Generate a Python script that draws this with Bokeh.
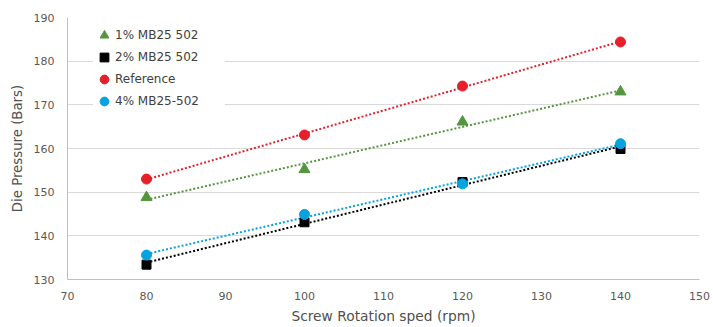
import numpy as np
from bokeh.plotting import figure
from bokeh.models import Range1d, FixedTicker, Legend, LegendItem
from bokeh.embed import file_html
from bokeh.resources import INLINE

# ---- data ----
speed = [80, 100, 120, 140]
mb1 = [148.8, 155.2, 166.1, 173.0]
mb2 = [133.4, 143.1, 152.3, 159.9]
reference = [153.0, 163.1, 174.3, 184.4]
mb4 = [135.6, 144.9, 151.9, 161.1]

series_names = ["1% MB25 502", "2% MB25 502", "Reference", "4% MB25-502"]
x_ticks = [70, 80, 90, 100, 110, 120, 130, 140, 150]
y_ticks = [130, 140, 150, 160, 170, 180, 190]

colors = ["#559540", "#000000", "#e5202a", "#05a3e0"]
markers = ["triangle", "square", "circle", "circle"]
sizes = [11, 9, 10, 10]
FONT = "DejaVu Sans"

p = figure(width=713, height=327, output_backend="svg", toolbar_location=None,
           x_range=Range1d(70, 150), y_range=Range1d(130, 190),
           min_border_left=67, min_border_right=14, min_border_top=17, min_border_bottom=48)
p.outline_line_color = None
p.background_fill_color = "white"

p.xgrid.grid_line_color = None
p.ygrid.grid_line_color = "#d9d9d9"
p.ygrid.grid_line_width = 1

p.xaxis.ticker = FixedTicker(ticks=x_ticks)
p.yaxis.ticker = FixedTicker(ticks=y_ticks)
for ax in (p.xaxis[0], p.yaxis[0]):
    ax.axis_line_color = "#bfbfbf"
    ax.major_tick_line_color = None
    ax.minor_tick_line_color = None
    ax.major_tick_out = 0
    ax.major_tick_in = 0
    ax.major_label_text_font = FONT
    ax.major_label_text_font_size = "11px"
    ax.major_label_text_color = "#595959"
    ax.axis_label_text_font = FONT
    ax.axis_label_text_font_style = "normal"
    ax.axis_label_text_color = "#505050"

p.xaxis.axis_label = "Screw Rotation sped (rpm)"
p.yaxis.axis_label = "Die Pressure (Bars)"
p.xaxis.axis_label_text_font_size = "13.8px"
p.yaxis.axis_label_text_font_size = "13.3px"
p.xaxis.major_label_standoff = 12
p.xaxis.axis_label_standoff = 5
p.yaxis.major_label_standoff = 13
p.yaxis.axis_label_standoff = 6

all_series = [mb1, mb2, reference, mb4]
xs = np.array(speed, dtype=float)

# trendlines (linear least-squares fits)
for ys, c in zip(all_series, colors):
    k, b = np.polyfit(xs, np.array(ys), 1)
    xl = [xs.min(), xs.max()]
    p.line(xl, [k * xl[0] + b, k * xl[1] + b], line_color=c, line_width=2, line_dash="2 2")

items = []
for ys, c, m, s, name in zip(all_series, colors, markers, sizes, series_names):
    r = p.scatter(speed, ys, marker=m, size=s, fill_color=c, line_color=c)
    items.append(LegendItem(label=name, renderers=[r]))

legend = Legend(items=items, location=(26, 167))
legend.border_line_color = None
legend.background_fill_color = "white"
legend.background_fill_alpha = 1
legend.padding = 2
legend.margin = 0
legend.spacing = 0
legend.glyph_width = 22
legend.glyph_height = 22
legend.label_height = 22
legend.label_width = 110
legend.label_standoff = 0
legend.label_text_font = FONT
legend.label_text_font_size = "12px"
legend.label_text_color = "#404040"
p.add_layout(legend, "center")

open("out.html", "w").write(file_html(p, INLINE))
